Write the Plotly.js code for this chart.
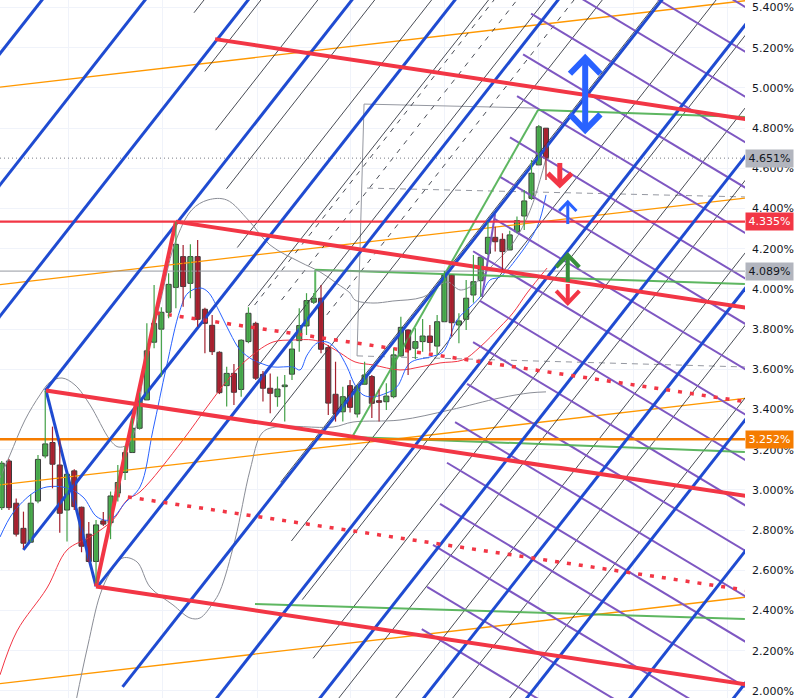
<!DOCTYPE html>
<html><head><meta charset="utf-8">
<script src="https://cdn.plot.ly/plotly-3.0.1.min.js"></script>
<style>html,body{margin:0;padding:0;background:#fff}#chart{width:799px;height:698px}</style>
</head><body><div id="chart"></div>
<script>
// ---- candles (bar index, yield %) ----
const openV=[2.912,3.144,2.934,2.809,2.740,2.945,3.169,3.236,3.124,2.900,
3.095,2.914,2.780,2.644,2.846,2.837,2.984,3.087,3.186,3.307,
3.448,3.735,3.800,3.884,4.008,4.161,4.028,4.161,3.899,3.819,
3.685,3.519,3.580,3.500,3.738,3.829,3.575,3.506,3.464,3.514,
3.576,3.743,3.816,3.934,3.954,3.708,3.476,3.389,3.519,3.378,
3.526,3.564,3.444,3.439,3.464,3.667,3.796,3.705,3.738,3.766,
3.716,3.837,4.070,3.821,3.849,3.970,4.041,4.177,4.257,4.247,
4.194,4.285,4.363,4.451,4.617,4.800];
const highV=[3.144,3.154,2.958,2.892,2.979,3.174,3.495,3.315,3.252,3.080,
3.103,2.917,2.841,2.850,2.890,2.992,3.124,3.216,3.357,3.484,
3.829,4.020,3.909,4.078,4.335,4.219,4.222,4.244,3.907,3.871,
3.690,3.613,3.627,3.750,3.909,3.837,3.592,3.580,3.564,3.572,
3.738,3.904,3.979,3.980,4.020,3.721,3.638,3.514,3.547,3.520,
3.638,3.572,3.500,3.531,3.705,3.862,3.800,3.804,3.851,3.821,
3.871,4.090,4.070,3.879,4.045,4.169,4.160,4.335,4.310,4.277,
4.290,4.360,4.493,4.642,4.816,4.800];
const lowV=[2.900,2.900,2.768,2.710,2.740,2.934,3.158,3.008,2.787,2.743,
2.900,2.690,2.640,2.536,2.820,2.755,2.942,3.050,3.186,3.300,
3.448,3.705,3.564,3.854,3.904,3.912,3.954,3.812,3.680,3.672,
3.477,3.415,3.423,3.464,3.730,3.547,3.440,3.381,3.414,3.340,
3.547,3.688,3.771,3.925,3.680,3.373,3.340,3.340,3.385,3.360,
3.522,3.358,3.340,3.398,3.456,3.663,3.572,3.652,3.688,3.688,
3.672,3.837,3.763,3.730,3.796,3.932,3.960,4.169,4.186,4.095,
4.194,4.277,4.294,4.443,4.617,4.542];
const closeV=[3.133,2.912,2.780,2.735,2.934,3.152,3.229,3.128,2.884,3.078,
2.917,2.720,2.644,2.826,2.830,2.970,3.037,3.186,3.307,3.448,
3.692,3.829,3.884,4.023,4.222,4.012,4.161,3.849,3.829,3.688,
3.484,3.580,3.486,3.745,3.879,3.556,3.506,3.481,3.502,3.522,
3.701,3.818,3.942,3.954,3.700,3.432,3.378,3.464,3.411,3.514,
3.572,3.431,3.436,3.467,3.672,3.809,3.697,3.738,3.766,3.734,
3.837,4.070,3.832,3.841,3.954,4.036,4.158,4.257,4.235,4.186,
4.269,4.340,4.438,4.576,4.807,4.651];

// ---- indicators ----
const maRedX=[-0.23,2.11,6.24,9.0,12.17,15.34,17.27,19.06,24.98,28.29,31.46,34.22,37.38,40.14,42.9,44.28,46.62,48.68,51.16,54.88,57.64,60.4,63.56,65.9,68.67,70.46,72.39,75.14];
const maRedY=[2.080,2.298,2.512,2.701,2.766,2.851,2.950,2.990,3.249,3.413,3.562,3.662,3.736,3.746,3.746,3.731,3.682,3.637,3.622,3.597,3.612,3.632,3.647,3.711,3.811,3.881,3.980,4.104];
const maBlueX=[-0.23,1.56,4.31,6.24,9.0,11.2,13.13,14.92,16.99,19.06,20.85,22.7,24.57,25.67,27.33,28.43,30.08,31.46,32.84,34.63,35.6,37.38,40.14,41.1,42.08,43.46,44.83,46.2,47.59,48.68,49.79,51.16,53.09,54.47,56.26,59.02,60.81,62.74,64.53,65.91,67.29,68.67,71.01,73.77,75.0];
const maBlueY=[2.766,2.886,2.985,3.015,3.010,2.965,2.866,2.851,2.935,3.015,3.299,3.613,3.895,3.980,4.005,3.985,3.881,3.781,3.697,3.647,3.632,3.612,3.612,3.597,3.671,3.731,3.736,3.697,3.612,3.522,3.473,3.463,3.483,3.513,3.632,3.662,3.687,3.846,3.910,3.960,4.045,4.060,4.154,4.308,4.468];
const bbUpX=[-0.23,1.14,3.21,5.28,6.66,8.31,10.1,12.17,14.92,16.03,17.27,18.37,19.98,21.58,23.88,26.18,28.43,31.0,33.98,36.97,41.1,43.86,46.16,47.99,48.68,51.16,53.9,58.06,61.37,63.16,64.95,67.29,70.46,72.8,74.2,75.0];
const bbUpY=[3.060,3.174,3.348,3.473,3.537,3.557,3.522,3.423,3.249,3.214,3.224,3.298,3.696,3.895,4.229,4.393,4.443,4.443,4.343,4.219,4.134,4.085,4.028,3.980,3.945,3.930,3.940,3.960,4.035,3.995,4.020,4.105,4.228,4.390,4.545,4.650];
const bbLoX=[8.72,10.33,11.89,13.55,14.92,16.71,18.64,20.44,23.6,25.95,27.33,29.12,30.08,32.15,34.22,35.87,37.66,45.65,48.41,54.88,61.77,68.67,72.8,75.0];
const bbLoY=[1.657,1.965,2.229,2.478,2.587,2.662,2.642,2.517,2.428,2.363,2.363,2.438,2.497,2.751,3.099,3.283,3.313,3.313,3.338,3.348,3.398,3.458,3.483,3.488];

// ---- horizontal levels ----
const levelRed=4.335, levelOrange=3.252, levelGray=4.089, lastClose=4.651;
const tickVals=[2.0,2.2,2.4,2.6,2.8,3.0,3.2,3.4,3.6,3.8,4.0,4.2,4.4,4.6,4.8,5.0,5.2,5.4];
const tickText=tickVals.map(v=>v.toFixed(3)+'%');
const gridX=[9.14,22.09,35.18,48.0,60.95,73.9,87.0,99.95];

// ---- pitchfork pivots ----
const pivA=[6.1,3.495], pivB=[13.0,2.52], pivC=[24.0,4.335];
const pfTopStart=29.4;

// ---- blue parallel family (index where each crosses 4.000%, start level) ----
const blueSlope=0.046;
const blueAt4=[-25.7,-11.5,2.7,17.0,31.2,45.4,59.7,73.9,88.1,102.4,116.6,130.8,145.1];
const blueStartV=[1.5,1.5,1.5,3.495,2.702,2.52,2.02,1.5,1.5,1.5,1.5,1.5,1.5];

// ---- black thin family ----
const blackAt4=[-3.38,4.46,12.30,20.14,27.98,35.82,43.66,51.50,59.34,67.18,75.02,82.86,90.70,98.54,106.38,114.22];
const blackEdgeA=[26.5,5.373], blackEdgeB=[36.97,3.324];
// dashed mid lines (crossing 4.000% index, start level)
const dashAt4=[36.58,39.75,47.6];
const dashStartV=[3.920,3.945,3.871];

// ---- purple family: value at right edge and start index ----
const purpleSlope=-0.02166;
const purpleRightV=[5.404,5.181,4.957,4.731,4.505,4.279,4.053,3.827,3.601,3.376,3.150,2.924,2.698,2.472,2.246,2.020,1.795,1.569,1.343];
const purpleStartI=[96.22,85.2,74.18,72.94,71.84,71.01,70.04,68.67,67.84,64.95,65.91,64.95,64.12,62.47,61.36,60.4,59.43,58.61,57.88];
const purpleZigX=[66.19,67.98], purpleZigY=[3.960,4.373];

// ---- orange thin parallel lines (value at index 0, slope) ----
const orangeSlope=0.00419;
const orangeAt0=[5.005,4.023,3.026,2.037];

// ---- green drawings ----
const greenX1=[43.2,48.3,34.9,73.9,48.3,43.2];
const greenY1=[4.095,3.264,2.433,4.891,3.264,4.095];
const greenX2=[102.4,102.4,102.4,102.4,73.9,43.2];
const greenY2=[4.025,3.189,2.358,4.856,4.891,3.955];

// ---- gray drawings ----
const grayPathX=[48.96,49.93,73.9], grayPathY=[3.667,4.920,4.900];
const grayDashX1=[50.34,48.96], grayDashY1=[4.502,3.667], grayDashX2=[102.4,102.4], grayDashY2=[4.458,3.612];

// ---- arrows ----
const arrowX=[80.4,76.9,78.0,78.0,78.0];
const arrowTail=[4.791,4.627,4.323,4.035,4.025];
const arrowHead=[5.149,4.517,4.433,4.169,3.930];
const arrowColor=['#2962ff','#f23645','#2962ff','#388e3c','#f23645'];
const arrowWidth=[6,5,3,4,4];
const arrowHalfW=[2.1,1.65,1.2,1.6,1.6];
const arrowHeadH=[0.078,0.058,0.045,0.06,0.06];
const arrowDouble=[true,false,false,false,false];

const XMIN=-0.234, XMAX=102.42, YMIN=1.9648, YMAX=5.4378;
const traces=[];
function group(color,width,dash,opacity){return {type:'scatter',mode:'lines',x:[],y:[],line:{color:color,width:width,dash:dash||'solid'},opacity:opacity||1,hoverinfo:'skip'};}
function seg(g,x1,y1,x2,y2){g.x.push(x1,x2,null);g.y.push(y1,y2,null);}

// gray dashed + gray path
const gDash=group('#9598a1',1,'6px,5px');
for(let k=0;k<grayDashX1.length;k++) seg(gDash,grayDashX1[k],grayDashY1[k],grayDashX2[k],grayDashY2[k]);
traces.push(gDash);
traces.push({type:'scatter',mode:'lines',x:grayPathX,y:grayPathY,line:{color:'#9598a1',width:1},hoverinfo:'skip'});

// orange lines
const gOr=group('#ff9800',1.3);
orangeAt0.forEach(v=>seg(gOr,XMIN,v+orangeSlope*XMIN,XMAX,v+orangeSlope*XMAX));
traces.push(gOr);

// black family
const gBlk=group('#2a2e39',1,'solid',0.85);
const es=(blackEdgeB[1]-blackEdgeA[1])/(blackEdgeB[0]-blackEdgeA[0]);
blackAt4.forEach(a=>{
  const i0=(blackEdgeA[1]-es*blackEdgeA[0]-4+blueSlope*a)/(blueSlope-es);
  const v0=4+blueSlope*(i0-a);
  const v1=5.6, i1=a+(v1-4)/blueSlope;
  seg(gBlk,i0,v0,i1,v1);
});
traces.push(gBlk);
const gBlkD=group('#2a2e39',1,'5px,6px',0.85);
dashAt4.forEach((a,k)=>{const v0=dashStartV[k];seg(gBlkD,a+(v0-4)/blueSlope,v0,a+(5.6-4)/blueSlope,5.6);});
traces.push(gBlkD);

// indicators
traces.push({type:'scatter',mode:'lines',x:bbUpX,y:bbUpY,line:{color:'#8a8d96',width:1,shape:'spline'},hoverinfo:'skip'});
traces.push({type:'scatter',mode:'lines',x:bbLoX,y:bbLoY,line:{color:'#8a8d96',width:1,shape:'spline'},hoverinfo:'skip'});
traces.push({type:'scatter',mode:'lines',x:maRedX,y:maRedY,line:{color:'#f23645',width:1,shape:'spline'},hoverinfo:'skip'});
traces.push({type:'scatter',mode:'lines',x:maBlueX,y:maBlueY,line:{color:'#2962ff',width:1,shape:'spline'},hoverinfo:'skip'});

// purple family
const gPur=group('#7e57c2',2);
purpleRightV.forEach((vr,k)=>{const x0=purpleStartI[k];seg(gPur,x0,vr+purpleSlope*(x0-XMAX),XMAX+1,vr+purpleSlope);});
seg(gPur,purpleZigX[0],purpleZigY[0],purpleZigX[1],purpleZigY[1]);
traces.push(gPur);

// green drawings
const gGr=group('#4caf50',2,'solid',0.9);
for(let k=0;k<greenX1.length;k++) seg(gGr,greenX1[k],greenY1[k],greenX2[k],greenY2[k]);
traces.push(gGr);

// horizontal levels
const gH1=group('#9598a1',1); seg(gH1,XMIN,levelGray,XMAX,levelGray); traces.push(gH1);
const gH2=group('#787b86',1,'1px,3px'); seg(gH2,XMIN,lastClose,XMAX,lastClose); traces.push(gH2);
const gH3=group('#f57c00',2.6); seg(gH3,XMIN,levelOrange,XMAX,levelOrange); traces.push(gH3);
const gH4=group('#f23645',2.4); seg(gH4,XMIN,levelRed,XMAX,levelRed); traces.push(gH4);

// blue family
const gBlue=group('#1f4bd1',3);
blueAt4.forEach((a,k)=>{const v0=blueStartV[k],v1=5.6;seg(gBlue,a+(v0-4)/blueSlope,v0,a+(v1-4)/blueSlope,v1);});
seg(gBlue,pivA[0],pivA[1],pivB[0],pivB[1]);
traces.push(gBlue);

// pitchfork
const midBC=[(pivB[0]+pivC[0])/2,(pivB[1]+pivC[1])/2];
const pf=(midBC[1]-pivA[1])/(midBC[0]-pivA[0]);
const medAt=i=>pivA[1]+pf*(i-pivA[0]);
const d=pivC[1]-medAt(pivC[0]);
const gPf=group('#f23645',4);
seg(gPf,pivA[0],pivA[1],XMAX+1,medAt(XMAX+1));
seg(gPf,pivC[0],pivC[1],XMAX+1,pivC[1]+pf*(XMAX+1-pivC[0]));
seg(gPf,pivB[0],pivB[1],XMAX+1,pivB[1]+pf*(XMAX+1-pivB[0]));
seg(gPf,pivB[0],pivB[1],pivC[0],pivC[1]);
seg(gPf,pfTopStart,medAt(pfTopStart)+2*d,XMAX+1,medAt(XMAX+1)+2*d);
traces.push(gPf);
const gPfDot=group('#f23645',3.5,'4px,8px');
const bcS=(pivC[1]-pivB[1])/(pivC[0]-pivB[0]);
[0.5,-0.5].forEach(f=>{
  const i0=(pivA[1]-pf*pivA[0]+f*d-pivB[1]+bcS*pivB[0])/(bcS-pf);
  seg(gPfDot,i0,medAt(i0)+f*d,XMAX+1,medAt(XMAX+1)+f*d);
});
traces.push(gPfDot);

// candles: wicks and bodies
const wUp=group('#43a047',1.2), wDn=group('#a3202e',1.2);
const bodyBase=[],bodyH=[],bodyCol=[],idx=[];
openV.forEach((o,i)=>{
  const c=closeV[i], up=c>=o;
  seg(up?wUp:wDn,i,lowV[i],i,highV[i]);
  idx.push(i); bodyBase.push(Math.min(o,c)); bodyH.push(Math.max(Math.abs(c-o),0.008)); bodyCol.push(up?'#4caf50':'#ad2332');
});
traces.push(wUp,wDn);
traces.push({type:'bar',x:idx,y:bodyH,base:bodyBase,width:0.7,marker:{color:bodyCol,line:{color:'#3c3c3c',width:1}},hoverinfo:'skip'});

// arrows
arrowX.forEach((x,k)=>{
  const g=group(arrowColor[k],arrowWidth[k]);
  const t=arrowTail[k],h=arrowHead[k],s=Math.sign(h-t),hw=arrowHalfW[k],hh=arrowHeadH[k];
  seg(g,x,t,x,h);
  g.x.push(x-hw,x,x+hw,null); g.y.push(h-s*hh,h,h-s*hh,null);
  if(arrowDouble[k]){g.x.push(x-hw,x,x+hw,null); g.y.push(t+s*hh,t,t+s*hh,null);}
  traces.push(g);
});

const annotations=[
  {v:lastClose,bg:'#b2b5be',fc:'#131722'},
  {v:levelRed,bg:'#f23645',fc:'#ffffff'},
  {v:levelGray,bg:'#b2b5be',fc:'#131722'},
  {v:levelOrange,bg:'#f57c00',fc:'#ffffff'}
].map(a=>({xref:'paper',x:1,xanchor:'left',yref:'y',y:a.v,yanchor:'middle',text:a.v.toFixed(3)+'%',showarrow:false,
  bgcolor:a.bg,font:{family:'DejaVu Sans',size:11,color:a.fc},width:45,height:15,borderpad:1,align:'center'}));

const layout={width:799,height:698,margin:{l:0,r:54,t:0,b:0},paper_bgcolor:'#ffffff',plot_bgcolor:'#ffffff',
  showlegend:false,hovermode:false,barmode:'overlay',
  xaxis:{range:[XMIN,XMAX],tickvals:gridX,showticklabels:false,gridcolor:'#f0f3fa',zeroline:false,showline:false,ticks:''},
  yaxis:{side:'right',range:[YMIN,YMAX],tickvals:tickVals,ticktext:tickText,gridcolor:'#f0f3fa',zeroline:false,showline:false,ticks:'',
    ticklabelstandoff:6,tickfont:{family:'DejaVu Sans',size:11,color:'#131722'}},
  annotations:annotations};
Plotly.newPlot('chart',traces,layout,{staticPlot:true});
</script></body></html>
